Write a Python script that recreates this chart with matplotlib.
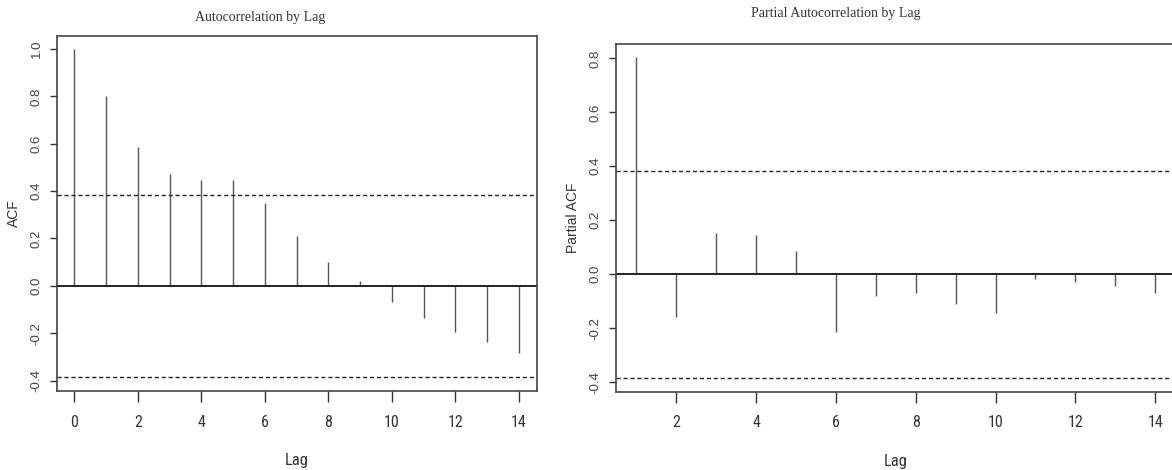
import matplotlib
matplotlib.use('Agg')
import matplotlib.pyplot as plt
from matplotlib import font_manager

# ACF values, lags 0..14
acf_lags = list(range(0, 15))
acf_vals = [1.0, 0.801, 0.587, 0.472, 0.445, 0.445, 0.351, 0.211, 0.101, 0.02,
            -0.068, -0.134, -0.194, -0.237, -0.283]

# PACF values, lags 1..14
pacf_lags = list(range(1, 15))
pacf_vals = [0.804, -0.159, 0.152, 0.144, 0.087, -0.213, -0.080, -0.070,
             -0.111, -0.144, -0.019, -0.027, -0.042, -0.068]

conf = 0.384

W, H = 1172, 470
fig = plt.figure(figsize=(W / 100, H / 100), dpi=100)

installed = {f.name for f in font_manager.fontManager.ttflist}
narrow = [n for n in ('Liberation Sans Narrow', 'DejaVu Sans Condensed',
                      'Roboto Condensed', 'Open Sans Condensed') if n in installed]
tick_font = narrow + ['Liberation Sans', 'DejaVu Sans']
sans = ['Liberation Sans', 'DejaVu Sans']
serif = ['Liberation Serif', 'DejaVu Serif']


def box(l, t, r, b):
    return [l / W, 1 - b / H, (r - l) / W, (b - t) / H]


def draw(ax, lags, vals, ylabel, xlim, ylim, yticks, xticks):
    ax.vlines(lags, 0, vals, color='#555555', linewidth=1.0)
    ax.axhline(0, color='#111111', linewidth=1.3)
    for c in (conf, -conf):
        ax.axhline(c, color='#222222', linewidth=1.0, linestyle=(0, (3, 2)))
    ax.set_xlim(*xlim)
    ax.set_ylim(*ylim)
    ax.set_yticks(yticks)
    ax.set_yticklabels([f'{v:.1f}' for v in yticks], rotation=90, va='center',
                       family=sans, fontsize=9.5, color='#444444')
    ax.set_xticks(xticks)
    ax.set_xticklabels([str(v) for v in xticks], family=tick_font, fontsize=11.5,
                       color='#333333')
    ax.tick_params(axis='y', length=5, width=1, pad=5, color='#333333')
    ax.tick_params(axis='x', length=8, width=1, pad=9, color='#333333')
    for s in ax.spines.values():
        s.set_color('#444444')
        s.set_linewidth(1.2)
    ax.set_ylabel(ylabel, family=sans, fontsize=10, color='#333333', labelpad=7)
    ax.set_xlabel('Lag', family=tick_font, fontsize=12, color='#333333', labelpad=17)


ax1 = fig.add_axes(box(56.5, 36, 536.8, 391))
draw(ax1, acf_lags, acf_vals, 'ACF', (-0.56, 14.56), (-0.444, 1.055),
     [-0.4, -0.2, 0.0, 0.2, 0.4, 0.6, 0.8, 1.0], list(range(0, 15, 2)))

ax2 = fig.add_axes(box(615.5, 44.3, 1176, 391.7))
draw(ax2, pacf_lags, pacf_vals, 'Partial ACF', (0.48, 14.52), (-0.435, 0.852),
     [-0.4, -0.2, 0.0, 0.2, 0.4, 0.6, 0.8], list(range(2, 15, 2)))
ax2.spines['right'].set_visible(False)

fig.text(260 / W, 1 - 17 / H, 'Autocorrelation by Lag', family=serif,
         fontsize=10, color='#333333', ha='center', va='center')
fig.text(836 / W, 1 - 13 / H, 'Partial Autocorrelation by Lag', family=serif,
         fontsize=10, color='#333333', ha='center', va='center')

fig.savefig('out.png', dpi=100)
